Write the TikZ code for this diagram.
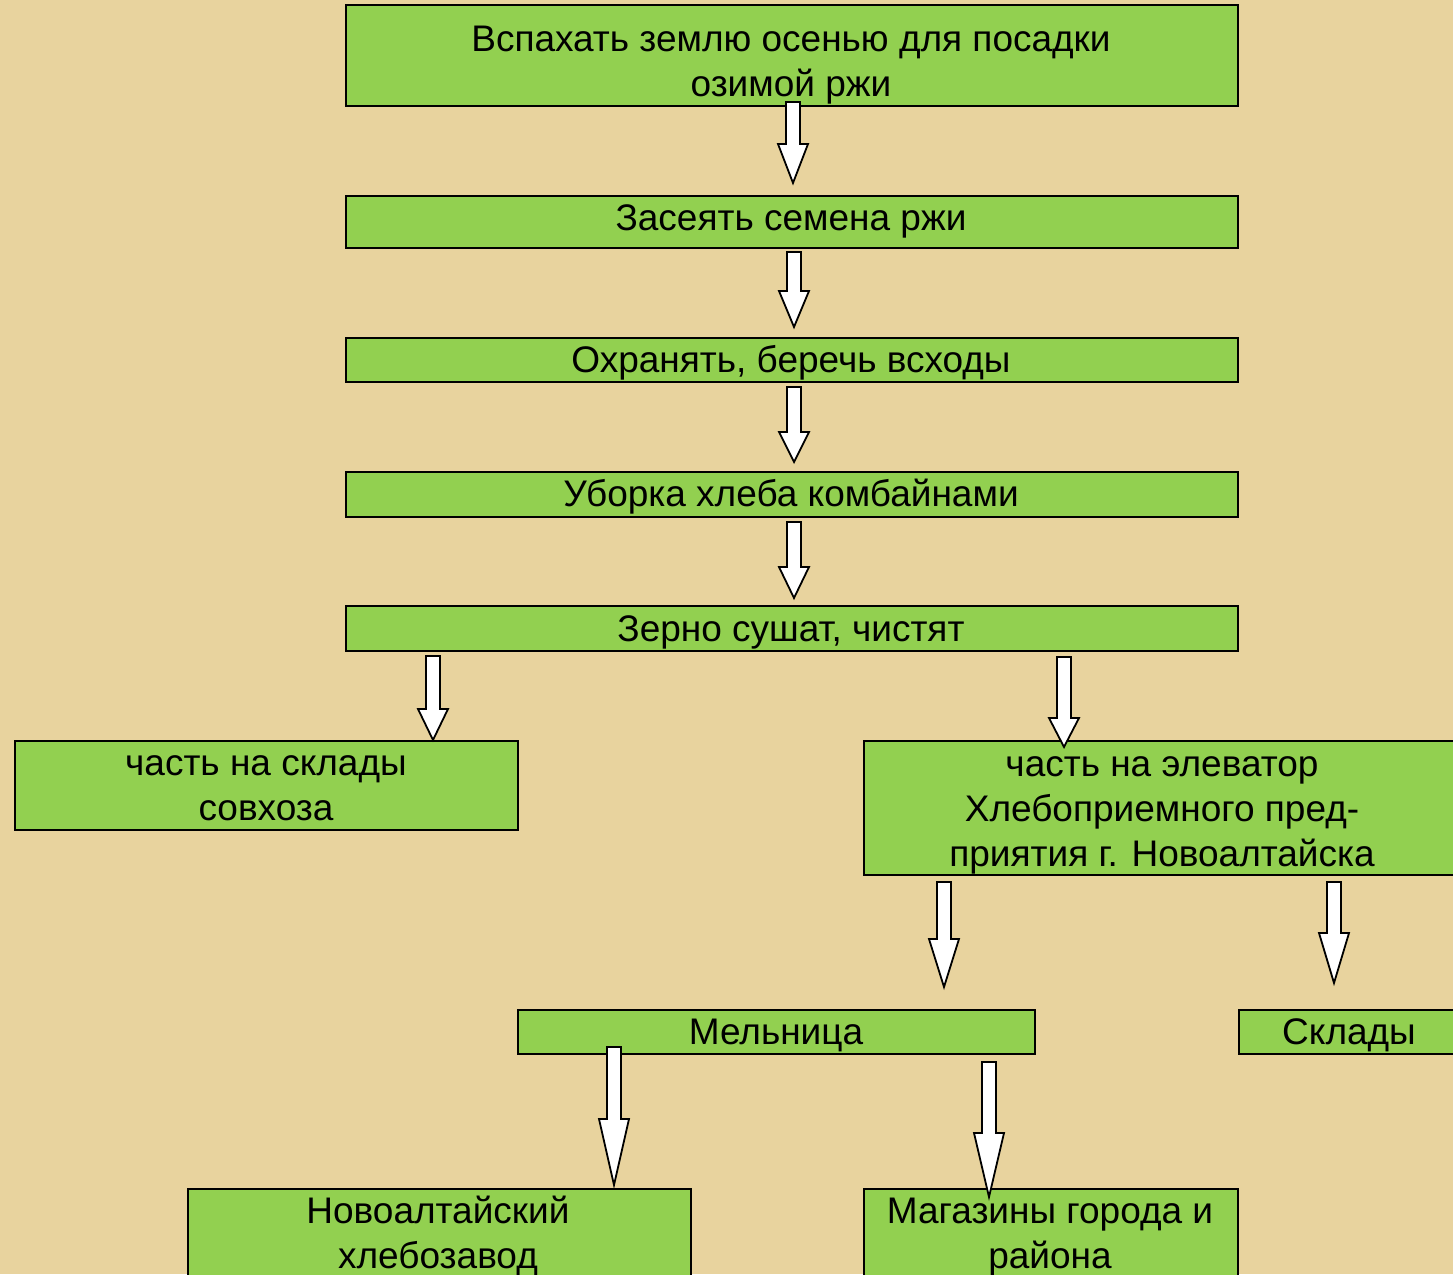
\documentclass[tikz,border=0pt]{standalone}
\usepackage{fontspec}
\setmainfont{Liberation Sans}
\usepackage{tikz}
\usetikzlibrary{positioning,calc}
\definecolor{parchment}{RGB}{232,211,158}
\definecolor{boxgreen}{RGB}{146,208,80}

% block arrow: start, tip, head length
\newcommand{\blockarrow}[3]{%
  \draw[arrowbody] ($(#1)+(-7,0)$) -- ($(#1)+(7,0)$) -- ($(#2)+(7,-#3)$)
    -- ($(#2)+(15,-#3)$) -- (#2) -- ($(#2)+(-15,-#3)$) -- ($(#2)+(-7,-#3)$) -- cycle;}

\begin{document}
\begin{tikzpicture}[x=1pt,y=-1pt,
    stepbox/.style={draw=black,line width=1.8pt,fill=boxgreen,anchor=north west,inner sep=0pt},
    lbl/.style={font=\fontsize{37}{45}\selectfont,align=center,inner sep=0pt,anchor=base},
    arrowbody/.style={draw=black,line width=1.8pt,fill=white,line join=miter}]
    \useasboundingbox (0,0) rectangle (1453,1274);
    \fill[parchment] (0,0) rectangle (1453,1274);
    \clip (0,0) rectangle (1453,1274);

    % chain of steps
    \node[stepbox,minimum width=892,minimum height=101] (plow) at (345,4) {};
    \node[stepbox,minimum width=892,minimum height=52] (sow) at (345,195) {};
    \node[stepbox,minimum width=892,minimum height=44] (guard) at (345,337) {};
    \node[stepbox,minimum width=892,minimum height=45] (harvest) at (345,471) {};
    \node[stepbox,minimum width=892,minimum height=45] (dry) at (345,605) {};
    \node[stepbox,minimum width=503,minimum height=89] (farm) at (14,740) {};
    \node[stepbox,minimum width=620,minimum height=134] (elevator) at (863,740) {};
    \node[stepbox,minimum width=517,minimum height=44] (mill) at (517,1009) {};
    \node[stepbox,minimum width=240,minimum height=44] (store) at (1238,1009) {};
    \node[stepbox,minimum width=503,minimum height=120] (bakery) at (187,1188) {};
    \node[stepbox,minimum width=374,minimum height=120] (shops) at (863,1188) {};

    % texts (base = last line)
    \node[lbl] (plow-t) at (791,96) {Вспахать землю осенью для посадки\\озимой ржи};
    \node[lbl] (sow-t) at (791,230) {Засеять семена ржи};
    \node[lbl] (guard-t) at (791,372) {Охранять, беречь всходы};
    \node[lbl] (harvest-t) at (791,506) {Уборка хлеба комбайнами};
    \node[lbl] (dry-t) at (791,641) {Зерно сушат, чистят};
    \node[lbl] (farm-t) at (266,820) {часть на склады\\совхоза};
    \node[lbl] (elevator-t) at (1162,866) {часть на элеватор\\Хлебоприемного пред-\\приятия г. Новоалтайска};
    \node[lbl] (mill-t) at (776,1044) {Мельница};
    \node[lbl] (store-t) at (1349,1044) {Склады};
    \node[lbl] (bakery-t) at (438,1268) {Новоалтайский\\хлебозавод};
    \node[lbl] (shops-t) at (1050,1268) {Магазины города и\\района};

    % arrow ends
    \coordinate (a1s) at (793,102);
    \coordinate (a1e) at (793,183);
    \coordinate (a2s) at (794,252);
    \coordinate (a2e) at (794,327);
    \coordinate (a3s) at (794,387);
    \coordinate (a3e) at (794,462);
    \coordinate (a4s) at (794,522);
    \coordinate (a4e) at (794,598);
    \coordinate (a5s) at (433,656);
    \coordinate (a5e) at (433,740);
    \coordinate (a6s) at (1064,657);
    \coordinate (a6e) at (1064,747);
    \coordinate (a7s) at (944,882);
    \coordinate (a7e) at (944,987);
    \coordinate (a8s) at (1334,882);
    \coordinate (a8e) at (1334,983);
    \coordinate (a9s) at (614,1047);
    \coordinate (a9e) at (614,1185);
    \coordinate (a10s) at (989,1062);
    \coordinate (a10e) at (989,1197);

    \blockarrow{a1s}{a1e}{39}
    \blockarrow{a2s}{a2e}{36}
    \blockarrow{a3s}{a3e}{30}
    \blockarrow{a4s}{a4e}{31}
    \blockarrow{a5s}{a5e}{31}
    \blockarrow{a6s}{a6e}{29}
    \blockarrow{a7s}{a7e}{48}
    \blockarrow{a8s}{a8e}{50}
    \blockarrow{a9s}{a9e}{66}
    \blockarrow{a10s}{a10e}{64}
\end{tikzpicture}
\end{document}
